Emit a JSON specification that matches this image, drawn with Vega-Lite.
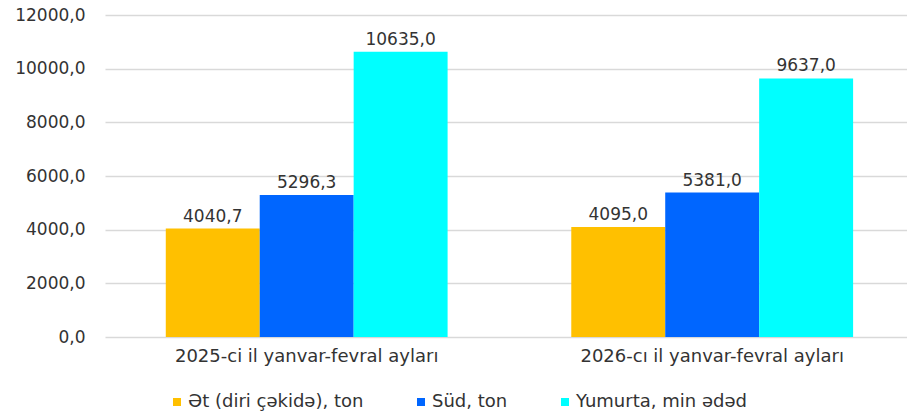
{
  "$schema": "https://vega.github.io/schema/vega-lite/v6.json",
  "width": 802,
  "height": 322,
  "autosize": {"type": "none"},
  "padding": {"left": 105, "top": 15, "right": 0, "bottom": 80},
  "config": {
    "locale": {"number": {"decimal": ",", "thousands": "", "grouping": [3], "currency": ["", ""]}},
    "view": {"stroke": null},
    "font": "DejaVu Sans"
  },
  "data": {
    "values": [
      {"period": "2025-ci il yanvar-fevral ayları", "series": "Ət (diri çəkidə), ton", "value": 4040.7},
      {"period": "2025-ci il yanvar-fevral ayları", "series": "Süd, ton", "value": 5296.3},
      {"period": "2025-ci il yanvar-fevral ayları", "series": "Yumurta, min ədəd", "value": 10635.0},
      {"period": "2026-cı il yanvar-fevral ayları", "series": "Ət (diri çəkidə), ton", "value": 4095.0},
      {"period": "2026-cı il yanvar-fevral ayları", "series": "Süd, ton", "value": 5381.0},
      {"period": "2026-cı il yanvar-fevral ayları", "series": "Yumurta, min ədəd", "value": 9637.0}
    ]
  },
  "encoding": {
    "x": {
      "field": "period",
      "type": "nominal",
      "sort": ["2025-ci il yanvar-fevral ayları", "2026-cı il yanvar-fevral ayları"],
      "scale": {"paddingInner": 0.305, "paddingOuter": 0.1414, "align": 0.53},
      "axis": {
        "title": null,
        "labelAngle": 0,
        "domain": false,
        "ticks": false,
        "labelFontSize": 18,
        "labelColor": "#333333",
        "labelPadding": 10,
        "labelLimit": 500
      }
    },
    "xOffset": {
      "field": "series",
      "type": "nominal",
      "sort": ["Ət (diri çəkidə), ton", "Süd, ton", "Yumurta, min ədəd"]
    },
    "y": {
      "field": "value",
      "type": "quantitative",
      "scale": {"domain": [0, 12000]},
      "axis": {
        "title": null,
        "values": [0, 2000, 4000, 6000, 8000, 10000, 12000],
        "format": ".1f",
        "domain": false,
        "ticks": false,
        "labelPadding": 20,
        "labelFontSize": 17,
        "labelColor": "#333333",
        "gridColor": "#d9d9d9",
        "gridWidth": 1.6
      }
    }
  },
  "layer": [
    {
      "mark": {"type": "bar"},
      "encoding": {
        "color": {
          "field": "series",
          "type": "nominal",
          "sort": ["Ət (diri çəkidə), ton", "Süd, ton", "Yumurta, min ədəd"],
          "scale": {"range": ["#FFC000", "#0066FF", "#00FFFF"]},
          "legend": {
            "title": null,
            "orient": "none",
            "direction": "horizontal",
            "legendX": 63,
            "legendY": 378,
            "symbolType": "square",
            "symbolSize": 64,
            "symbolStrokeWidth": 0,
            "symbolOpacity": 1,
            "labelFontSize": 18,
            "labelColor": "#333333",
            "labelOffset": 2,
            "columnPadding": 48,
            "labelLimit": 400
          }
        }
      }
    },
    {
      "mark": {"type": "text", "baseline": "bottom", "dy": -3, "fontSize": 17, "color": "#333333"},
      "encoding": {
        "text": {"field": "value", "type": "quantitative", "format": ".1f"}
      }
    }
  ]
}
